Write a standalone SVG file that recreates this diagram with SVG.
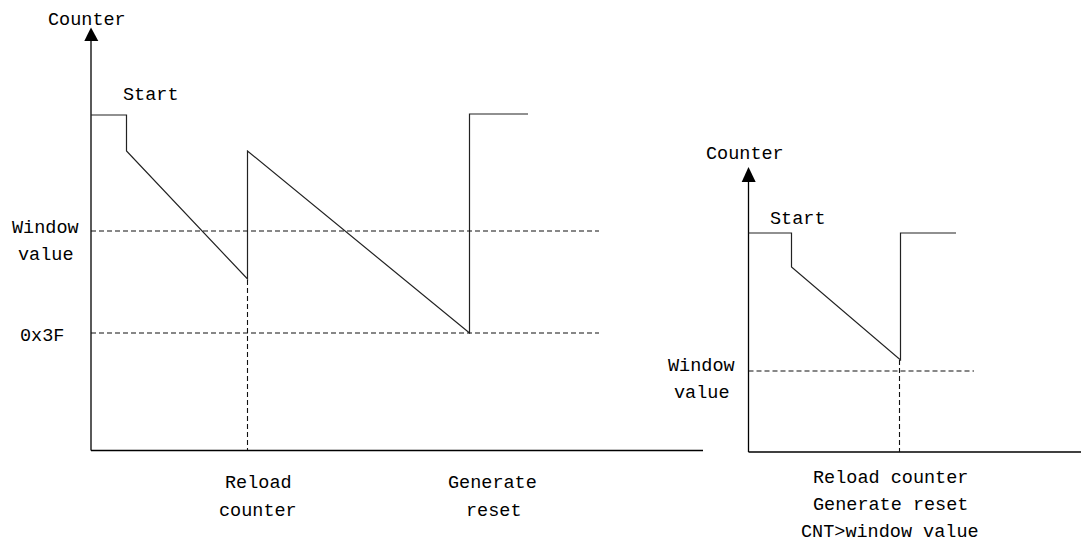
<svg xmlns="http://www.w3.org/2000/svg" width="1081" height="541" viewBox="0 0 1081 541">
<style>
text{font-family:"Liberation Mono","DejaVu Sans Mono",monospace;font-size:18.5px;fill:#000}
.axis{stroke:#000;stroke-width:1.3;fill:none}
.sig{stroke:#222;stroke-width:1.2;fill:none}
.dash{stroke:#111;stroke-width:1.1;stroke-dasharray:5,3;fill:none}
</style>
<rect width="1081" height="541" fill="#fff"/>
<g id="left-chart">
<g id="left-axes">
<line class="axis" x1="91" y1="40" x2="91" y2="450.5"/>
<line class="axis" x1="91" y1="450.5" x2="703" y2="450.5"/>
<polygon points="91,27.5 84.3,41 98.3,41" fill="#000"/>
</g>
<g id="left-connectors">
<polyline class="sig" points="91,115 126.5,115 126.5,151 247.5,279 247.5,151 469.5,333 469.5,114 528,114"/>
<line class="dash" x1="91" y1="231" x2="599" y2="231"/>
<line class="dash" x1="91" y1="333" x2="599" y2="333"/>
<line class="dash" x1="247.5" y1="280" x2="247.5" y2="450"/>
</g>
<g id="left-labels">
<text x="48" y="25">Counter</text>
<text x="123" y="100">Start</text>
<text x="12" y="233">Window</text>
<text x="18" y="260">value</text>
<text x="20" y="341">0x3F</text>
<text x="225" y="488">Reload</text>
<text x="219" y="516">counter</text>
<text x="448" y="488">Generate</text>
<text x="466" y="516">reset</text>
</g>
</g>
<g id="right-chart">
<g id="right-axes">
<line class="axis" x1="748.5" y1="181" x2="748.5" y2="452"/>
<line class="axis" x1="748.5" y1="452" x2="1081" y2="452"/>
<polygon points="748.5,167 741.7,182 755.7,182" fill="#000"/>
</g>
<g id="right-connectors">
<polyline class="sig" points="748.5,233 791.5,233 791.5,267 900.5,360 900.5,233 956,233"/>
<line class="dash" x1="748.5" y1="371" x2="974" y2="371"/>
<line class="dash" x1="899.5" y1="360" x2="899.5" y2="452"/>
</g>
<g id="right-labels">
<text x="706" y="159">Counter</text>
<text x="770" y="224">Start</text>
<text x="668" y="371">Window</text>
<text x="674" y="398">value</text>
<text x="813" y="483">Reload counter</text>
<text x="813" y="510">Generate reset</text>
<text x="801" y="537">CNT&gt;window value</text>
</g>
</g>
</svg>
